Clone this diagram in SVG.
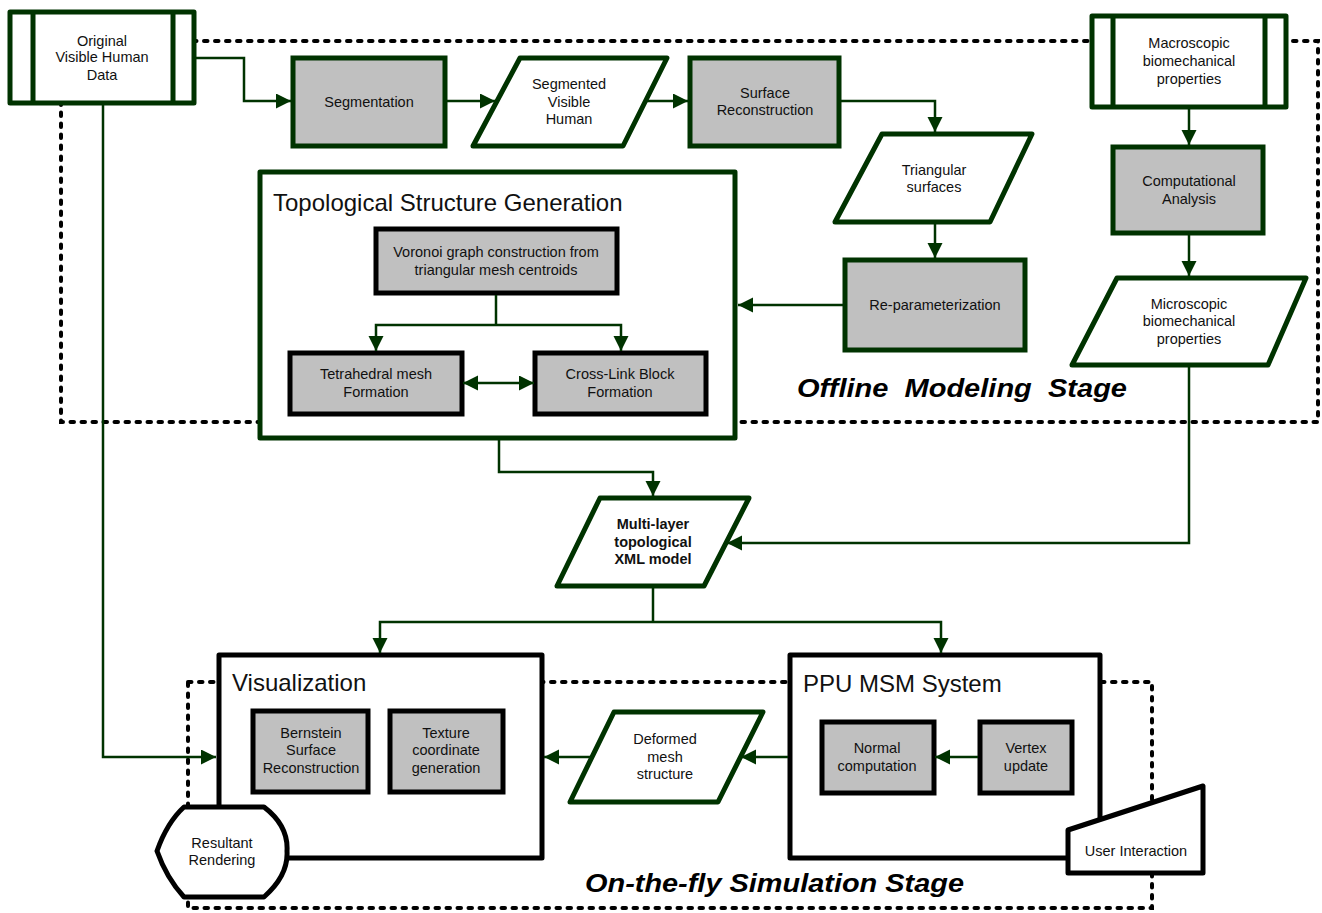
<svg xmlns="http://www.w3.org/2000/svg" width="1322" height="913" viewBox="0 0 1322 913">
<style>
.t{font-family:"Liberation Sans",Arial,sans-serif;font-size:14.5px;fill:#111;text-anchor:middle}
.b{font-weight:bold}
.title{font-family:"Liberation Sans",Arial,sans-serif;font-size:24px;fill:#111}
.stage{font-family:"Liberation Sans",Arial,sans-serif;font-size:26px;font-weight:bold;font-style:italic;fill:#000}
.gbox{fill:#c0c0c0;stroke:#003300;stroke-width:5}
.gwhite{fill:#fff;stroke:#003300;stroke-width:5;stroke-linejoin:round}
.kbox{fill:#c0c0c0;stroke:#000;stroke-width:5}
.kwhite{fill:#fff;stroke:#000;stroke-width:5;stroke-linejoin:round}
.dash{fill:none;stroke:#000;stroke-width:4;stroke-dasharray:3.5 7.5;stroke-linecap:round}
.c{fill:none;stroke:#003300;stroke-width:2.5}
.a{marker-end:url(#ah)}
</style>
<defs>
<marker id="ah" markerUnits="userSpaceOnUse" markerWidth="16" markerHeight="16" refX="15" refY="7.5" orient="auto-start-reverse">
<path d="M0,0 L15,7.5 L0,15 z" fill="#003300"/>
</marker>
</defs>
<rect width="1322" height="913" fill="#fff"/>
<g id="regions">
<rect class="dash" x="61" y="41" width="1257" height="381"/>
<rect class="dash" x="188" y="682" width="964" height="226"/>
</g>
<g id="original">
<rect class="gwhite" x="10" y="12" width="184" height="91"/>
<path d="M33,12 V103 M173,12 V103" stroke="#003300" stroke-width="5"/>
<text class="t" x="102" y="46">Original</text>
<text class="t" x="102" y="62">Visible Human</text>
<text class="t" x="102" y="80">Data</text>
</g>
<g id="segmentation">
<rect class="gbox" x="293" y="58" width="152" height="88"/>
<text class="t" x="369" y="107">Segmentation</text>
</g>
<g id="segmented">
<polygon class="gwhite" points="520,58 667,58 623,146 473,146"/>
<text class="t" x="569" y="89">Segmented</text>
<text class="t" x="569" y="107">Visible</text>
<text class="t" x="569" y="124">Human</text>
</g>
<g id="surface">
<rect class="gbox" x="690" y="58" width="149" height="88"/>
<text class="t" x="765" y="98">Surface</text>
<text class="t" x="765" y="115">Reconstruction</text>
</g>
<g id="triangular">
<polygon class="gwhite" points="882,134 1032,134 990,222 835,222"/>
<text class="t" x="934" y="175">Triangular</text>
<text class="t" x="934" y="192">surfaces</text>
</g>
<g id="reparam">
<rect class="gbox" x="845" y="260" width="180" height="90"/>
<text class="t" x="935" y="310">Re-parameterization</text>
</g>
<g id="topological">
<rect class="gwhite" x="260" y="172" width="475" height="266"/>
<text class="title" x="273" y="211">Topological Structure Generation</text>
</g>
<g id="voronoi">
<rect class="kbox" x="376" y="229" width="241" height="64"/>
<text class="t" x="496" y="257">Voronoi graph construction from</text>
<text class="t" x="496" y="275">triangular mesh centroids</text>
</g>
<g id="tetra">
<rect class="kbox" x="290" y="353" width="172" height="61"/>
<text class="t" x="376" y="379">Tetrahedral mesh</text>
<text class="t" x="376" y="397">Formation</text>
</g>
<g id="crosslink">
<rect class="kbox" x="535" y="353" width="171" height="61"/>
<text class="t" x="620" y="379">Cross-Link Block</text>
<text class="t" x="620" y="397">Formation</text>
</g>
<g id="macroscopic">
<rect class="gwhite" x="1092" y="16" width="194" height="91"/>
<path d="M1113,16 V107 M1265,16 V107" stroke="#003300" stroke-width="5"/>
<text class="t" x="1189" y="48">Macroscopic</text>
<text class="t" x="1189" y="66">biomechanical</text>
<text class="t" x="1189" y="84">properties</text>
</g>
<g id="computational">
<rect class="gbox" x="1113" y="147" width="150" height="86"/>
<text class="t" x="1189" y="186">Computational</text>
<text class="t" x="1189" y="204">Analysis</text>
</g>
<g id="microscopic">
<polygon class="gwhite" points="1117,278 1306,278 1268,365 1072,365"/>
<text class="t" x="1189" y="309">Microscopic</text>
<text class="t" x="1189" y="326">biomechanical</text>
<text class="t" x="1189" y="344">properties</text>
</g>
<text class="stage" x="797" y="397" textLength="330" lengthAdjust="spacingAndGlyphs" xml:space="preserve">Offline  Modeling  Stage</text>
<g id="multilayer">
<polygon class="gwhite" points="600,498 749,498 704,586 557,586"/>
<text class="t b" x="653" y="529">Multi-layer</text>
<text class="t b" x="653" y="547">topological</text>
<text class="t b" x="653" y="564">XML model</text>
</g>
<g id="visualization">
<rect class="kwhite" x="219" y="655" width="323" height="203"/>
<text class="title" x="232" y="691">Visualization</text>
</g>
<g id="bernstein">
<rect class="kbox" x="253" y="711" width="115" height="81"/>
<text class="t" x="311" y="738">Bernstein</text>
<text class="t" x="311" y="755">Surface</text>
<text class="t" x="311" y="773">Reconstruction</text>
</g>
<g id="texture">
<rect class="kbox" x="390" y="711" width="113" height="81"/>
<text class="t" x="446" y="738">Texture</text>
<text class="t" x="446" y="755">coordinate</text>
<text class="t" x="446" y="773">generation</text>
</g>
<g id="resultant">
<path class="kwhite" d="M184,807 L264,807 C281,820 288,835 287,851 C288,867 281,882 264,897 L184,897 C172,884 163,868 157,851 C163,834 172,818 184,807 Z"/>
<text class="t" x="222" y="848">Resultant</text>
<text class="t" x="222" y="865">Rendering</text>
</g>
<g id="deformed">
<polygon class="gwhite" points="614,712 763,712 718,802 570,802"/>
<text class="t" x="665" y="744">Deformed</text>
<text class="t" x="665" y="762">mesh</text>
<text class="t" x="665" y="779">structure</text>
</g>
<g id="ppu">
<rect class="kwhite" x="790" y="655" width="310" height="203"/>
<text class="title" x="803" y="692">PPU MSM System</text>
</g>
<g id="normal">
<rect class="kbox" x="822" y="722" width="112" height="71"/>
<text class="t" x="877" y="753">Normal</text>
<text class="t" x="877" y="771">computation</text>
</g>
<g id="vertex">
<rect class="kbox" x="980" y="722" width="92" height="71"/>
<text class="t" x="1026" y="753">Vertex</text>
<text class="t" x="1026" y="771">update</text>
</g>
<g id="userinteraction">
<polygon class="kwhite" points="1068,830 1203,786 1203,873 1068,873"/>
<text class="t" x="1136" y="856">User Interaction</text>
</g>
<text class="stage" x="585" y="892" textLength="379" lengthAdjust="spacingAndGlyphs">On-the-fly Simulation Stage</text>
<g id="connectors">
<path class="c a" d="M196,58 H244 V101 H291"/>
<path class="c a" d="M447,101 H495"/>
<path class="c a" d="M646,101 H688"/>
<path class="c a" d="M841,101 H935 V132"/>
<path class="c a" d="M935,224 V258"/>
<path class="c a" d="M843,305 H738"/>
<path class="c" d="M496,295 V325"/>
<path class="c a" d="M496,325 H376 V351"/>
<path class="c a" d="M496,325 H621 V351"/>
<path class="c" d="M463,383 H534" marker-start="url(#ah)" marker-end="url(#ah)"/>
<path class="c a" d="M1189,109 V145"/>
<path class="c a" d="M1189,235 V276"/>
<path class="c a" d="M1189,367 V543 H727"/>
<path class="c a" d="M499,440 V472 H653 V496"/>
<path class="c" d="M653,588 V622"/>
<path class="c a" d="M653,622 H380 V653"/>
<path class="c a" d="M653,622 H941 V653"/>
<path class="c a" d="M103,105 V757 H216"/>
<path class="c a" d="M788,757 H741"/>
<path class="c a" d="M592,757 H544"/>
<path class="c a" d="M978,757 H935"/>
</g>
</svg>
